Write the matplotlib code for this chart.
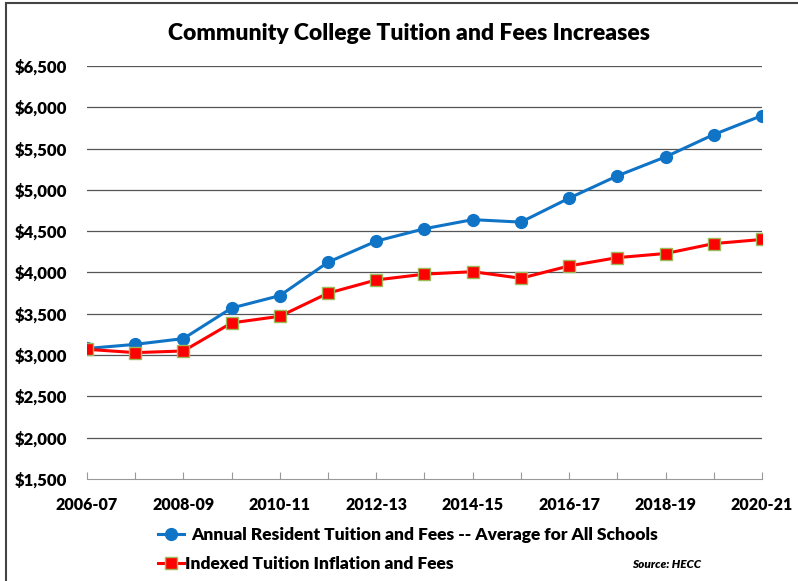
import matplotlib.pyplot as plt
from matplotlib.lines import Line2D
from matplotlib.patches import Rectangle

plt.rcParams['font.family'] = ['Lato', 'DejaVu Sans']
plt.rcParams['font.weight'] = 'heavy'
W = 'heavy'

# school years and tuition values
years = ["2006-07", "2007-08", "2008-09", "2009-10", "2010-11", "2011-12", "2012-13",
         "2013-14", "2014-15", "2015-16", "2016-17", "2017-18", "2018-19", "2019-20", "2020-21"]
resident = [3080, 3130, 3200, 3570, 3720, 4125, 4380, 4530, 4640, 4610, 4900, 5170, 5400, 5670, 5900]
indexed = [3070, 3030, 3050, 3390, 3470, 3750, 3910, 3980, 4010, 3930, 4080, 4180, 4230, 4350, 4400]
yticks = [1500, 2000, 2500, 3000, 3500, 4000, 4500, 5000, 5500, 6000, 6500]

fig = plt.figure(figsize=(7.98, 5.81), dpi=100)
ax = fig.add_axes([87 / 798, 1 - 479 / 581, (762 - 87) / 798, (479 - 66) / 581])

x = list(range(len(years)))
ax.plot(x, resident, color='#0F73C6', lw=2.2, marker='o', ms=8.5, zorder=3,
        label='Annual Resident Tuition and Fees -- Average for All Schools')
ax.plot(x, indexed, color='#FF0000', lw=2.2, marker='s', ms=8, mfc='#FF0000',
        mec='#9BBB59', mew=1, zorder=3, label='Indexed Tuition Inflation and Fees')

ax.set_xlim(0, len(years) - 1)
ax.set_ylim(1500, 6500)
ax.set_yticks(yticks)
ax.set_yticklabels([f"${v:,}" for v in yticks], fontsize=12, fontweight=W)
ax.set_xticks(x)
ax.set_xticklabels([y if i % 2 == 0 else "" for i, y in enumerate(years)],
                   fontsize=11.5, fontweight=W)
for v in yticks[1:]:
    ax.axhline(v, color='#555555', lw=0.9, zorder=1)

for s in ['left', 'right', 'top']:
    ax.spines[s].set_visible(False)
ax.spines['bottom'].set_color('#999999')
ax.tick_params(axis='y', length=0, pad=14)
ax.tick_params(axis='x', direction='in', length=5, color='#999999', pad=13)

fig.text(409 / 798, 1 - 33 / 581, "Community College Tuition and Fees Increases",
         ha='center', va='center', fontsize=16.5, fontweight=W)

# legend entries drawn below the plot
h1 = Line2D([0, 1], [0, 0], color='#0F73C6', lw=2.2, marker='o', ms=8.5)
h2 = Line2D([0, 1], [0, 0], color='#FF0000', lw=2.2, marker='s', ms=8,
            mec='#9BBB59', mew=1)
fig.legend([h1], ['Annual Resident Tuition and Fees -- Average for All Schools'],
           loc='center left', bbox_to_anchor=(158 / 798, 1 - 535 / 581),
           frameon=False, fontsize=12.5, handlelength=1.5, handletextpad=0.4,
           borderaxespad=0, borderpad=0)
fig.legend([h2], ['Indexed Tuition Inflation and Fees'],
           loc='center left', bbox_to_anchor=(158 / 798, 1 - 564 / 581),
           frameon=False, fontsize=12.5, handlelength=1.5, handletextpad=0.05,
           borderaxespad=0, borderpad=0)
fig.text(701 / 798, 1 - 565 / 581, "Source: HECC", ha='right', va='center',
         fontsize=8.5, fontweight=W, style='italic')

# outer chart frame
fig.patches.append(Rectangle((6 / 798, -0.1), 1.1, 1 - 3 / 581 + 0.1,
                             transform=fig.transFigure, fill=False,
                             edgecolor='#444444', lw=1.5))

fig.savefig("out.png", dpi=100)
